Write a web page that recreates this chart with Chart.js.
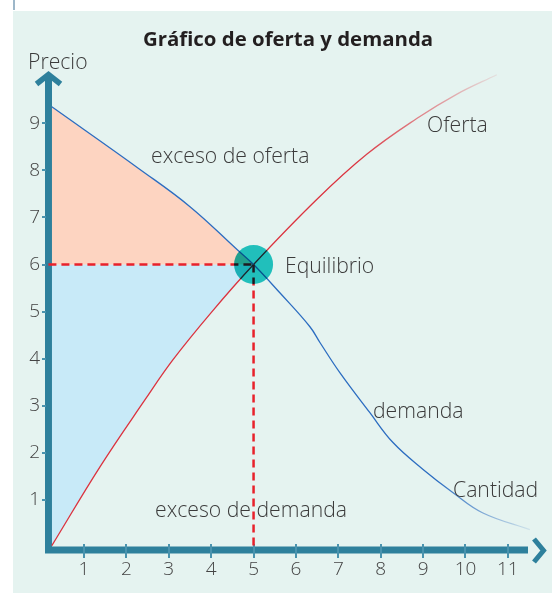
<!DOCTYPE html>
<html>
<head>
<meta charset="utf-8">
<script src="https://cdn.jsdelivr.net/npm/chart.js@4.4.1/dist/chart.umd.min.js"></script>
<style>
  html, body { margin: 0; padding: 0; background: #fff; }
  #page { position: relative; width: 552px; height: 593px; overflow: hidden; }
  #panel { position: absolute; left: 13px; top: 11px; right: 0; bottom: 0; background: #e5f3f0; }
  #tab { position: absolute; left: 13px; top: 0; width: 2px; height: 10px; background: #9db7c9; }
  #chart { position: absolute; left: 0; top: 0; }
</style>
</head>
<body>
<div id="page">
  <div id="panel"></div>
  <div id="tab"></div>
  <canvas id="chart" width="552" height="593"></canvas>
</div>
<script>
// values
const xTicks = [1, 2, 3, 4, 5, 6, 7, 8, 9, 10, 11];
const yTicks = [1, 2, 3, 4, 5, 6, 7, 8, 9];

const supplyX = [0.24, 1.38, 2.44, 3.1, 4.0, 5.0, 6.49, 7.67, 8.85, 9.8, 10.74];
const supplyY = [0.03, 1.71, 3.13, 3.98, 4.98, 6.0, 7.38, 8.34, 9.1, 9.62, 10.03];

const demandX = [0.24, 2.32, 3.5, 4.61, 5.0, 5.62, 6.33, 6.57, 7.04, 7.74, 8.29, 9.0, 9.7, 10.4, 11.52];
const demandY = [9.35, 8.02, 7.23, 6.32, 6.0, 5.4, 4.68, 4.34, 3.7, 2.86, 2.22, 1.65, 1.16, 0.73, 0.37];

const equilibrium = { x: 5, y: 6 };

const AXIS = '#2e809c';
const TICK = '#4a93ae';
const TEXT = '#3b3b3b';
const FONT = "'Open Sans', sans-serif";

const notes = [
    { text: 'Precio', x: 28, y: 69 },
    { text: 'exceso de oferta', x: 151, y: 163 },
    { text: 'Oferta', x: 427, y: 132 },
    { text: 'Equilibrio', x: 285, y: 273 },
    { text: 'demanda', x: 373, y: 418 },
    { text: 'Cantidad', x: 453, y: 497 },
    { text: 'exceso de demanda', x: 155, y: 517 }
];

const toPoints = (xs, ys) => xs.map((x, i) => ({ x: x, y: ys[i] }));
const supply = toPoints(supplyX, supplyY);
const demand = toPoints(demandX, demandY);
// parts left of the equilibrium, used for the shaded areas
const supplyLeft = supply.filter(p => p.x <= equilibrium.x);
const demandLeft = demand.filter(p => p.x <= equilibrium.x);

// line that fades out towards its end
function fadeStroke(rgb, from, to) {
    return function (c) {
        const chart = c.chart;
        if (!chart.chartArea) return 'rgb(' + rgb + ')';
        const xs = chart.scales.x;
        const g = chart.ctx.createLinearGradient(xs.getPixelForValue(from), 0, xs.getPixelForValue(to), 0);
        g.addColorStop(0, 'rgba(' + rgb + ',1)');
        g.addColorStop(1, 'rgba(' + rgb + ',0.08)');
        return g;
    };
}

const axesPlugin = {
    id: 'axes',
    beforeDatasetsDraw(chart) {
        const { ctx, chartArea: a } = chart;
        const x0 = a.left + 0.5, y0 = a.bottom + 1;
        ctx.save();
        ctx.strokeStyle = AXIS;
        ctx.lineCap = 'butt';
        ctx.lineJoin = 'miter';

        // y axis with arrow head
        ctx.lineWidth = 7;
        ctx.beginPath();
        ctx.moveTo(x0, y0 + 3);
        ctx.lineTo(x0, a.top + 4);
        ctx.stroke();
        ctx.lineWidth = 5.5;
        ctx.beginPath();
        ctx.moveTo(x0 - 12, a.top + 13);
        ctx.lineTo(x0, a.top + 3.5);
        ctx.lineTo(x0 + 12, a.top + 13);
        ctx.stroke();

        // x axis with chevron
        ctx.lineWidth = 7;
        ctx.beginPath();
        ctx.moveTo(a.left - 3, y0);
        ctx.lineTo(a.right - 18, y0);
        ctx.stroke();
        ctx.lineWidth = 5;
        ctx.beginPath();
        ctx.moveTo(a.right - 12, y0 - 11);
        ctx.lineTo(a.right - 2.5, y0 + 0.5);
        ctx.lineTo(a.right - 12, y0 + 12);
        ctx.stroke();

        // tick marks
        ctx.strokeStyle = TICK;
        ctx.lineWidth = 2;
        const xs = chart.scales.x, ys = chart.scales.y;
        xTicks.forEach(v => {
            const px = Math.round(xs.getPixelForValue(v));
            ctx.beginPath();
            ctx.moveTo(px, y0 - 6);
            ctx.lineTo(px, y0 + 8);
            ctx.stroke();
        });
        yTicks.forEach(v => {
            const py = Math.round(ys.getPixelForValue(v));
            ctx.beginPath();
            ctx.moveTo(a.left - 6, py);
            ctx.lineTo(a.left - 2, py);
            ctx.stroke();
        });
        ctx.restore();
    },
    beforeDatasetDraw(chart, args) {
        if (chart.data.datasets[args.index].multiply) {
            chart.ctx.save();
            chart.ctx.globalCompositeOperation = 'multiply';
        }
    },
    afterDatasetDraw(chart, args) {
        if (chart.data.datasets[args.index].multiply) chart.ctx.restore();
    },
    afterDraw(chart) {
        const ctx = chart.ctx;
        ctx.save();
        ctx.fillStyle = '#231f20';
        ctx.font = 'bold 20.4px ' + FONT;
        ctx.textAlign = 'center';
        ctx.textBaseline = 'alphabetic';
        ctx.fillText('Gráfico de oferta y demanda', 288, 46);
        ctx.fillStyle = TEXT;
        ctx.font = '300 21.2px ' + FONT;
        ctx.textAlign = 'left';
        notes.forEach(n => ctx.fillText(n.text, n.x, n.y));
        ctx.restore();
    }
};

const dash = [8, 5];
const curve = { showLine: true, pointRadius: 0, tension: 0.4, fill: false };

new Chart(document.getElementById('chart'), {
    type: 'scatter',
    data: {
        datasets: [
            Object.assign({}, curve, {
                data: demandLeft, borderWidth: 0, backgroundColor: '#fdd4c1',
                fill: { value: equilibrium.y }, order: 10
            }),
            Object.assign({}, curve, {
                data: supplyLeft, borderWidth: 0, backgroundColor: '#c8eaf8',
                fill: { value: equilibrium.y }, order: 10
            }),
            Object.assign({}, curve, {
                data: demand, borderWidth: 1.3,
                borderColor: fadeStroke('43,108,192', 9.3, 11.6), order: 4
            }),
            Object.assign({}, curve, {
                data: supply, borderWidth: 1.3,
                borderColor: fadeStroke('219,50,62', 7.4, 10.8), order: 4
            }),
            {
                data: [{ x: 0.16, y: equilibrium.y }, { x: equilibrium.x, y: equilibrium.y }],
                showLine: true, pointRadius: 0, borderWidth: 2.5, borderColor: '#e8212b',
                borderDash: dash, tension: 0, fill: false, order: 3
            },
            {
                data: [{ x: equilibrium.x, y: equilibrium.y }, { x: equilibrium.x, y: -0.04 }],
                showLine: true, pointRadius: 0, borderWidth: 2.5, borderColor: '#e8212b',
                borderDash: dash, tension: 0, fill: false, order: 3
            },
            {
                data: [equilibrium], pointRadius: 19.5, borderWidth: 0,
                backgroundColor: '#21bfbb', multiply: true, order: 0
            }
        ]
    },
    options: {
        responsive: false,
        animation: false,
        devicePixelRatio: 1,
        layout: { autoPadding: false, padding: { left: 24, right: 6, top: 71, bottom: 0 } },
        plugins: { legend: { display: false }, tooltip: { enabled: false } },
        scales: {
            x: {
                type: 'linear', min: 0.15, max: 11.9,
                grid: { display: false, drawTicks: false },
                border: { display: false },
                ticks: { font: { family: FONT, size: 19, weight: 300 }, color: '#444', padding: 9 },
                afterBuildTicks: s => { s.ticks = xTicks.map(v => ({ value: v })); },
                afterFit: s => { s.height = 44; s.paddingLeft = 0; s.paddingRight = 0; }
            },
            y: {
                type: 'linear', min: -0.04, max: 10.11,
                grid: { display: false, drawTicks: false },
                border: { display: false },
                ticks: { font: { family: FONT, size: 19, weight: 300 }, color: '#444', padding: 8 },
                afterBuildTicks: s => { s.ticks = yTicks.map(v => ({ value: v })); },
                afterFit: s => { s.width = 24; s.paddingTop = 0; s.paddingBottom = 0; }
            }
        }
    },
    plugins: [axesPlugin]
});
</script>
</body>
</html>
